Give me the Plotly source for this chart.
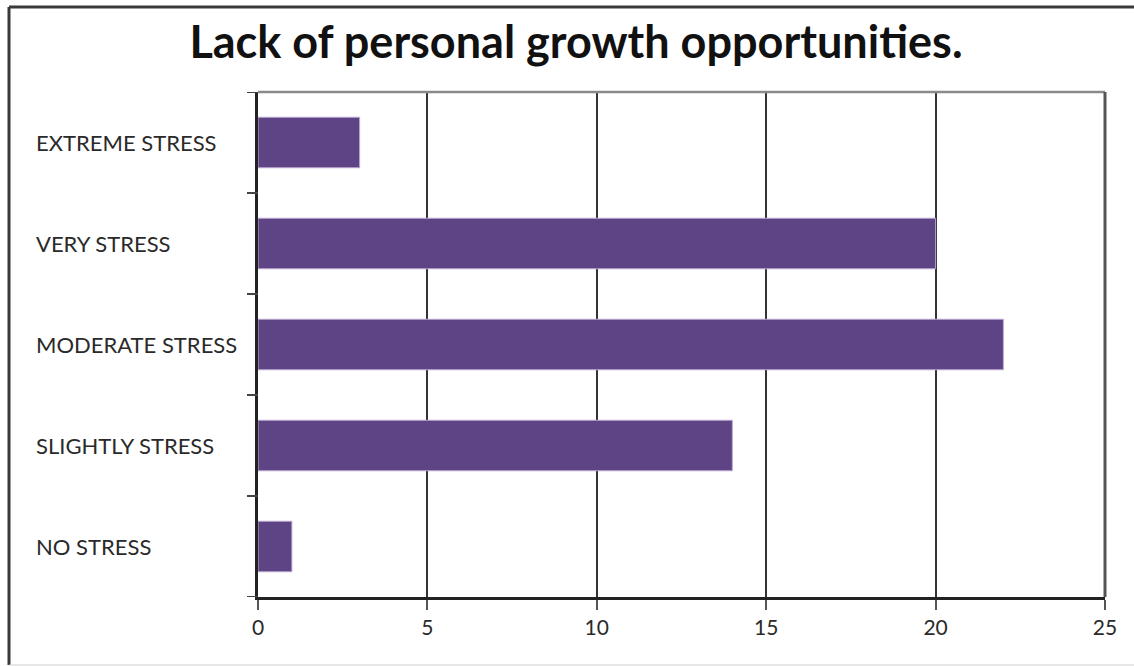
import plotly.graph_objects as go

# Survey responses: stress caused by lack of personal growth opportunities
categories = ["NO STRESS", "SLIGHTLY STRESS", "MODERATE STRESS", "VERY STRESS", "EXTREME STRESS"]
counts = [1, 14, 22, 20, 3]
x_ticks = [0, 5, 10, 15, 20, 25]

W, H = 1134, 666
L, R, T, B = 258, 29, 92, 69
plot_w = W - L - R
plot_h = H - T - B

def px_x(px):
    return (px - L) / plot_w

def px_y(py):
    return 1 - (py - T) / plot_h

FONT = "Lato, 'Open Sans', sans-serif"

fig = go.Figure(
    go.Bar(
        x=counts,
        y=categories,
        orientation="h",
        marker=dict(color="#5f4485", line=dict(color="#b9a7d0", width=1)),
        width=0.5,
        hoverinfo="x+y",
    )
)

# left-aligned category labels
for cat in categories:
    fig.add_annotation(
        x=px_x(34), xref="paper", xanchor="left",
        y=cat, yref="y", yanchor="middle",
        text=cat, showarrow=False,
        font=dict(family=FONT, size=22, color="#2a2a2a"),
    )

fig.update_layout(
    width=W, height=H,
    margin=dict(l=L, r=R, t=T, b=B),
    paper_bgcolor="white",
    plot_bgcolor="white",
    showlegend=False,
    title=dict(
        text="<b>Lack of personal growth opportunities.</b>",
        x=576 / W, xref="container", xanchor="center",
        y=1 - 42 / H, yref="container", yanchor="middle",
        font=dict(family=FONT, size=45, color="#111111"),
    ),
    xaxis=dict(
        range=[0, 25],
        tickvals=x_ticks,
        ticks="outside", ticklen=10, tickcolor="#555555", tickwidth=2,
        showgrid=True, gridcolor="#333333", gridwidth=1.5,
        showline=True, linecolor="#222222", linewidth=2.5,
        mirror=False,
        zeroline=False,
        tickfont=dict(family=FONT, size=21, color="#2a2a2a"),
        fixedrange=True,
    ),
    yaxis=dict(
        categoryorder="array", categoryarray=categories,
        range=[-0.5, 4.5],
        showticklabels=False,
        showgrid=False,
        showline=True, linecolor="#222222", linewidth=2.5,
        zeroline=False,
        fixedrange=True,
    ),
    shapes=[
        # grey top and right edges of plot area
        dict(type="line", xref="paper", yref="paper", x0=0, x1=1, y0=1, y1=1,
             line=dict(color="#8a8a8a", width=2.5)),
        dict(type="line", xref="paper", yref="paper", x0=1, x1=1, y0=0, y1=1,
             line=dict(color="#555555", width=3)),
        # chart frame
        dict(type="line", xref="paper", yref="paper",
             x0=px_x(9), x1=px_x(W), y0=px_y(7), y1=px_y(7),
             line=dict(color="#3a3a3a", width=3)),
        dict(type="line", xref="paper", yref="paper",
             x0=px_x(9), x1=px_x(9), y0=px_y(7), y1=px_y(665),
             line=dict(color="#3a3a3a", width=3)),
        dict(type="line", xref="paper", yref="paper",
             x0=px_x(9), x1=px_x(W), y0=px_y(665), y1=px_y(665),
             line=dict(color="#d0d0d0", width=1)),
    ],
)

# category separator ticks on the y axis
for i in range(len(categories) + 1):
    yv = i - 0.5
    fig.add_shape(type="line", xref="paper", yref="y",
                  x0=px_x(247), x1=0, y0=yv, y1=yv,
                  line=dict(color="#444444", width=2))

fig.write_html("out.html")
